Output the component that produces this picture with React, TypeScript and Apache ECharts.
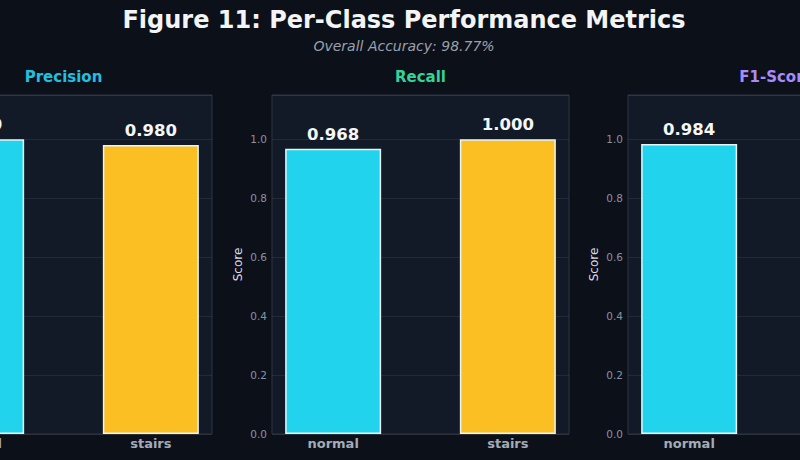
import React, { useEffect, useRef } from "react";
import * as echarts from "echarts";

const classes = ["normal", "stairs"];
const metrics = ["Precision", "Recall", "F1-Score"];
const precision = [1.0, 0.98];
const recall = [0.968, 1.0];
const f1 = [0.984, 0.99];
const yTicks = [0, 0.2, 0.4, 0.6, 0.8, 1.0];
const mainTitle = "Figure 11: Per-Class Performance Metrics";
const subTitle = "Overall Accuracy: 98.77%";

const BAR_COLORS = ["#22d3ee", "#fbbf24"];
const TITLE_COLORS = ["#22c0e0", "#34d399", "#a78bfa"];
const FONT = "'DejaVu Sans', Verdana, sans-serif";

export default function App() {
  const ref = useRef<HTMLDivElement>(null);
  useEffect(() => {
    if (!ref.current) return;
    const chart = echarts.init(ref.current, undefined, { renderer: "svg" });
    const seriesVals = [precision, recall, f1];
    const panelLefts = [-85, 272, 628];
    const panelW = 297;
    const top = 95;
    const height = 339;

    const grids = panelLefts.map((l) => ({
      left: l,
      top,
      width: panelW,
      height,
      show: true,
      backgroundColor: "#131a27",
      borderColor: "#2c3444",
      borderWidth: 1,
      containLabel: false,
      outerBoundsMode: "none",
    }));

    const xAxes = panelLefts.map((_, i) => ({
      type: "value",
      gridIndex: i,
      min: -0.35,
      max: 1.35,
      axisLine: { show: false },
      axisTick: { show: false },
      splitLine: { show: false },
      axisLabel: {
        customValues: [0, 1],
        formatter: (v: number) => classes[Math.round(v)] ?? "",
        color: "#a3abb9",
        fontWeight: "bold",
        fontSize: 13,
        fontFamily: FONT,
        margin: 3,
      },
    }));

    const yAxes = panelLefts.map((_, i) => ({
      type: "value",
      gridIndex: i,
      min: 0,
      max: 1.15,
      name: "Score",
      nameLocation: "middle",
      nameRotate: 90,
      nameGap: 28,
      nameTextStyle: { color: "#d8dce3", fontSize: 12, fontFamily: FONT },
      axisLine: { show: false },
      axisTick: { show: false },
      axisLabel: {
        customValues: yTicks,
        formatter: (v: number) => v.toFixed(1),
        color: "#8a92a0",
        fontSize: 10.5,
        fontFamily: FONT,
        margin: 5,
      },
      splitLine: {
        show: true,
        lineStyle: { color: "rgba(255,255,255,0.07)", width: 1 },
      },
    }));

    const series = seriesVals.map((vals, i) => ({
      type: "bar",
      xAxisIndex: i,
      yAxisIndex: i,
      barWidth: 96,
      data: vals.map((v, j) => ({
        value: [j, v],
        itemStyle: { color: BAR_COLORS[j] },
      })),
      itemStyle: { borderColor: "#e8f4f6", borderWidth: 1.5 },
      label: {
        show: true,
        position: "top",
        distance: 6,
        formatter: (p: any) => Number(p.value[1]).toFixed(3),
        color: "#f5f6f8",
        fontWeight: "bold",
        fontSize: 16.5,
        fontFamily: FONT,
      },
    }));

    const graphic: any[] = [
      {
        type: "text",
        x: 404,
        y: 20,
        style: {
          text: mainTitle,
          fill: "#f3f4f6",
          font: `bold 24px ${FONT}`,
          textAlign: "center",
          textVerticalAlign: "middle",
        },
      },
      {
        type: "text",
        x: 404,
        y: 46,
        style: {
          text: subTitle,
          fill: "#9aa1ad",
          font: `italic 14px ${FONT}`,
          textAlign: "center",
          textVerticalAlign: "middle",
        },
      },
      ...metrics.map((m, i) => ({
        type: "text",
        x: panelLefts[i] + panelW / 2,
        y: 77,
        style: {
          text: m,
          fill: TITLE_COLORS[i],
          font: `bold 15px ${FONT}`,
          textAlign: "center",
          textVerticalAlign: "middle",
        },
      })),
    ];

    chart.setOption({
      animation: false,
      backgroundColor: "#0c1018",
      grid: grids,
      xAxis: xAxes,
      yAxis: yAxes,
      series,
      graphic,
    });
    return () => chart.dispose();
  }, []);
  return (
    <div
      ref={ref}
      style={{ position: "fixed", left: 0, top: 0, width: 800, height: 460 }}
    />
  );
}
